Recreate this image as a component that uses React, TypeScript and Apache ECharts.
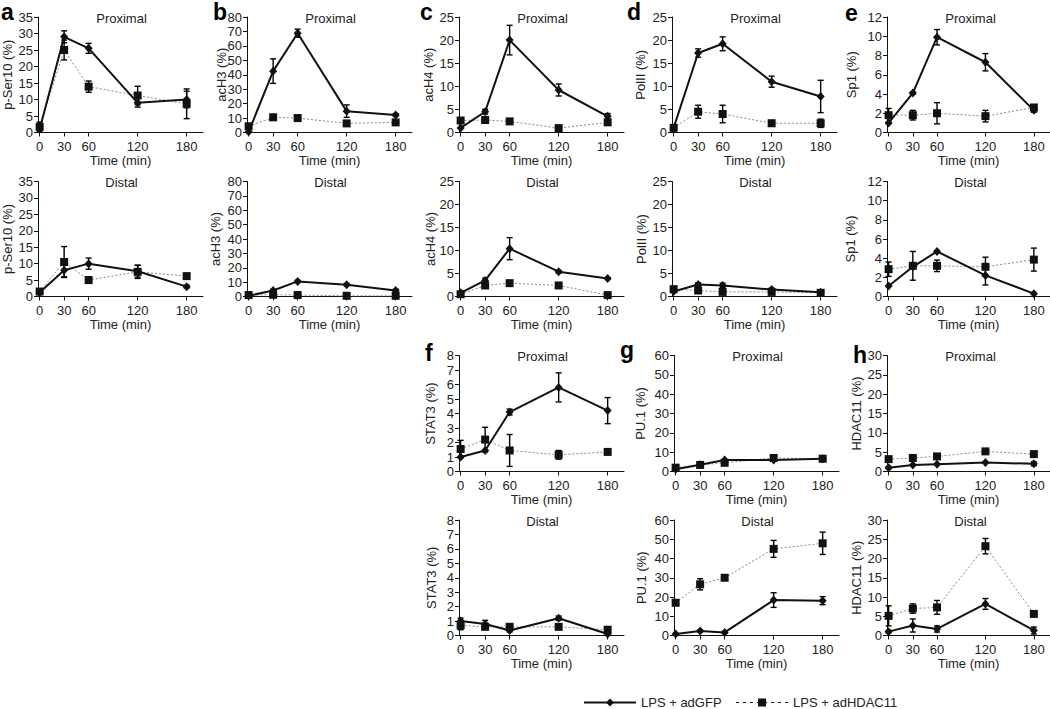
import React, { useEffect, useRef } from 'react';
import * as echarts from 'echarts';

const FONT = '"Liberation Sans", Arial, Helvetica, sans-serif';

const timePoints = [0, 30, 60, 120, 180];
const timeTicks = [0, 30, 60, 120, 180];
const GFP = 'LPS + adGFP';
const HDAC = 'LPS + adHDAC11';

// ---- a: p-Ser10 ----
const pSer10ProxGfp = [1, 29, 25.5, 9, 10];
const pSer10ProxGfpErr = [0, 1.8, 1.5, 1.3, 2.5];
const pSer10ProxHdac = [1.7, 25, 13.9, 11.2, 8.7];
const pSer10ProxHdacErr = [1.5, 3, 1.7, 2.8, 4.5];
const pSer10DistGfp = [1.2, 8, 10, 7.7, 3];
const pSer10DistGfpErr = [0, 2, 1.7, 1.8, 0.4];
const pSer10DistHdac = [1.5, 10.5, 5, 7.5, 6.2];
const pSer10DistHdacErr = [0.8, 4.7, 1, 2, 0.8];
// ---- b: acH3 ----
const acH3ProxGfp = [0.5, 42.5, 68.8, 14.8, 12.1];
const acH3ProxGfpErr = [0, 8.5, 2.8, 4.3, 1];
const acH3ProxHdac = [4.3, 10.5, 10, 6.3, 7];
const acH3ProxHdacErr = [1.2, 2, 2, 1, 0.8];
const acH3DistGfp = [0.5, 4.2, 10.5, 8.2, 4.2];
const acH3DistGfpErr = [0, 0.8, 0.8, 0.8, 0.8];
const acH3DistHdac = [1, 1.2, 1, 0.5, 0.5];
const acH3DistHdacErr = [0, 0, 0, 0, 0];
// ---- c: acH4 ----
const acH4ProxGfp = [1, 4.5, 20, 9.2, 3.5];
const acH4ProxGfpErr = [0, 0.5, 3.2, 1.3, 0.6];
const acH4ProxHdac = [2.6, 2.7, 2.4, 0.95, 2.2];
const acH4ProxHdacErr = [0.3, 0.3, 0.2, 0.2, 0.3];
const acH4DistGfp = [0.8, 3.5, 10.4, 5.4, 3.9];
const acH4DistGfpErr = [0, 0.5, 2.4, 0.3, 0.2];
const acH4DistHdac = [0.5, 2.4, 2.9, 2.4, 0.3];
const acH4DistHdacErr = [0, 0, 0, 0, 0];
// ---- d: PolII ----
const polIIProxGfp = [1, 17.2, 19.2, 11, 7.8];
const polIIProxGfpErr = [0, 0.9, 1.5, 1.2, 3.5];
const polIIProxHdac = [1, 4.5, 4, 2, 2];
const polIIProxHdacErr = [0.3, 1.4, 1.9, 0.6, 0.9];
const polIIDistGfp = [1.1, 2.6, 2.4, 1.5, 0.9];
const polIIDistGfpErr = [0.2, 0.4, 0.5, 0.3, 0.2];
const polIIDistHdac = [1.6, 1.3, 1.0, 1.0, 0.8];
const polIIDistHdacErr = [0.3, 0.2, 0.2, 0.2, 0.1];
// ---- e: Sp1 ----
const sp1ProxGfp = [1, 4.1, 9.9, 7.3, 2.3];
const sp1ProxGfpErr = [0, 0.1, 0.8, 0.9, 0.2];
const sp1ProxHdac = [1.8, 1.8, 2, 1.7, 2.6];
const sp1ProxHdacErr = [0.7, 0.5, 1.1, 0.6, 0.2];
const sp1DistGfp = [1.1, 3.1, 4.7, 2.2, 0.3];
const sp1DistGfpErr = [0, 0, 0.1, 1, 0];
const sp1DistHdac = [2.85, 3.2, 3.2, 3.1, 3.85];
const sp1DistHdacErr = [0.75, 1.5, 0.6, 1, 1.2];
// ---- f: STAT3 ----
const stat3ProxGfp = [1, 1.45, 4.1, 5.8, 4.2];
const stat3ProxGfpErr = [0, 0, 0.2, 1, 0.9];
const stat3ProxHdac = [1.55, 2.2, 1.45, 1.15, 1.35];
const stat3ProxHdacErr = [0.6, 0.85, 1.1, 0.3, 0.1];
const stat3DistGfp = [1, 0.8, 0.35, 1.2, 0.1];
const stat3DistGfpErr = [0.2, 0.25, 0.1, 0.15, 0];
const stat3DistHdac = [0.7, 0.6, 0.6, 0.6, 0.4];
const stat3DistHdacErr = [0.3, 0.1, 0.15, 0, 0.1];
// ---- g: PU.1 ----
const pu1ProxGfp = [1.2, 3.5, 6, 6, 6.6];
const pu1ProxGfpErr = [0, 0, 0, 0, 0];
const pu1ProxHdac = [2, 3.4, 4.5, 7, 6.6];
const pu1ProxHdacErr = [0.5, 0.5, 0.5, 0.8, 0.8];
const pu1DistGfp = [0.8, 2.3, 1.6, 18.4, 18.1];
const pu1DistGfpErr = [0, 0.5, 0.5, 3.8, 2.1];
const pu1DistHdac = [17, 26.6, 30, 45, 47.9];
const pu1DistHdacErr = [0.5, 2.9, 1.2, 4.4, 5.8];
// ---- h: HDAC11 ----
const hdac11ProxGfp = [1, 1.7, 1.9, 2.3, 2];
const hdac11ProxGfpErr = [0.3, 0, 0, 0, 0.5];
const hdac11ProxHdac = [3.2, 3.5, 3.9, 5.2, 4.5];
const hdac11ProxHdacErr = [0.6, 0.3, 0.4, 0.3, 0.5];
const hdac11DistGfp = [1, 2.6, 1.7, 8.2, 1.3];
const hdac11DistGfpErr = [0.3, 1.7, 0.8, 1.4, 0.9];
const hdac11DistHdac = [5.1, 7, 7.3, 23.2, 5.6];
const hdac11DistHdacErr = [2.6, 1.2, 1.8, 2, 0.6];

type PanelDef = {
  yName: string; region: string; max: number; interval: number;
  gfp: number[]; gfpErr: number[]; hd: number[]; hdErr: number[];
  col: number; row: number; gap: number;
};

const panels: PanelDef[] = [
  { yName: 'p-Ser10 (%)', region: 'Proximal', max: 35, interval: 5, gfp: pSer10ProxGfp, gfpErr: pSer10ProxGfpErr, hd: pSer10ProxHdac, hdErr: pSer10ProxHdacErr, col: 38, row: 0, gap: 24 },
  { yName: 'p-Ser10 (%)', region: 'Distal', max: 35, interval: 5, gfp: pSer10DistGfp, gfpErr: pSer10DistGfpErr, hd: pSer10DistHdac, hdErr: pSer10DistHdacErr, col: 38, row: 1, gap: 24 },
  { yName: 'acH3 (%)', region: 'Proximal', max: 80, interval: 10, gfp: acH3ProxGfp, gfpErr: acH3ProxGfpErr, hd: acH3ProxHdac, hdErr: acH3ProxHdacErr, col: 247, row: 0, gap: 19 },
  { yName: 'acH3 (%)', region: 'Distal', max: 80, interval: 10, gfp: acH3DistGfp, gfpErr: acH3DistGfpErr, hd: acH3DistHdac, hdErr: acH3DistHdacErr, col: 247, row: 1, gap: 25 },
  { yName: 'acH4 (%)', region: 'Proximal', max: 25, interval: 5, gfp: acH4ProxGfp, gfpErr: acH4ProxGfpErr, hd: acH4ProxHdac, hdErr: acH4ProxHdacErr, col: 459, row: 0, gap: 24 },
  { yName: 'acH4 (%)', region: 'Distal', max: 25, interval: 5, gfp: acH4DistGfp, gfpErr: acH4DistGfpErr, hd: acH4DistHdac, hdErr: acH4DistHdacErr, col: 459, row: 1, gap: 22 },
  { yName: 'PolII (%)', region: 'Proximal', max: 25, interval: 5, gfp: polIIProxGfp, gfpErr: polIIProxGfpErr, hd: polIIProxHdac, hdErr: polIIProxHdacErr, col: 672, row: 0, gap: 25 },
  { yName: 'PolII (%)', region: 'Distal', max: 25, interval: 5, gfp: polIIDistGfp, gfpErr: polIIDistGfpErr, hd: polIIDistHdac, hdErr: polIIDistHdacErr, col: 672, row: 1, gap: 24 },
  { yName: 'Sp1 (%)', region: 'Proximal', max: 12, interval: 2, gfp: sp1ProxGfp, gfpErr: sp1ProxGfpErr, hd: sp1ProxHdac, hdErr: sp1ProxHdacErr, col: 887, row: 0, gap: 29 },
  { yName: 'Sp1 (%)', region: 'Distal', max: 12, interval: 2, gfp: sp1DistGfp, gfpErr: sp1DistGfpErr, hd: sp1DistHdac, hdErr: sp1DistHdacErr, col: 887, row: 1, gap: 30 },
  { yName: 'STAT3 (%)', region: 'Proximal', max: 8, interval: 1, gfp: stat3ProxGfp, gfpErr: stat3ProxGfpErr, hd: stat3ProxHdac, hdErr: stat3ProxHdacErr, col: 459, row: 2, gap: 22 },
  { yName: 'STAT3 (%)', region: 'Distal', max: 8, interval: 1, gfp: stat3DistGfp, gfpErr: stat3DistGfpErr, hd: stat3DistHdac, hdErr: stat3DistHdacErr, col: 459, row: 3, gap: 21 },
  { yName: 'PU.1 (%)', region: 'Proximal', max: 60, interval: 10, gfp: pu1ProxGfp, gfpErr: pu1ProxGfpErr, hd: pu1ProxHdac, hdErr: pu1ProxHdacErr, col: 674, row: 2, gap: 27 },
  { yName: 'PU.1 (%)', region: 'Distal', max: 60, interval: 10, gfp: pu1DistGfp, gfpErr: pu1DistGfpErr, hd: pu1DistHdac, hdErr: pu1DistHdacErr, col: 674, row: 3, gap: 26 },
  { yName: 'HDAC11 (%)', region: 'Proximal', max: 30, interval: 5, gfp: hdac11ProxGfp, gfpErr: hdac11ProxGfpErr, hd: hdac11ProxHdac, hdErr: hdac11ProxHdacErr, col: 887, row: 2, gap: 24 },
  { yName: 'HDAC11 (%)', region: 'Distal', max: 30, interval: 5, gfp: hdac11DistGfp, gfpErr: hdac11DistGfpErr, hd: hdac11DistHdac, hdErr: hdac11DistHdacErr, col: 887, row: 3, gap: 24 },
];

const rowTops = [17, 181.5, 355.5, 520];
const rowHeights = [115.5, 115, 116, 115.5];
const GRID_W = 165;

const letters = [
  { t: 'a', x: 1, top: 0 },
  { t: 'b', x: 213, top: 0 },
  { t: 'c', x: 420, top: 0 },
  { t: 'd', x: 627, top: 0 },
  { t: 'e', x: 845, top: 1.5 },
  { t: 'f', x: 425, top: 341.5 },
  { t: 'g', x: 620, top: 338 },
  { t: 'h', x: 853, top: 343 },
];

function errRenderItem(params: any, api: any) {
  const x = api.value(0);
  const lo = api.value(1);
  const hi = api.value(2);
  const p1 = api.coord([x, lo]);
  const p2 = api.coord([x, hi]);
  const w = 3;
  const st = { stroke: '#000', lineWidth: 1.4 };
  return {
    type: 'group',
    children: [
      { type: 'line', shape: { x1: p1[0], y1: p1[1], x2: p2[0], y2: p2[1] }, style: st },
      { type: 'line', shape: { x1: p1[0] - w, y1: p1[1], x2: p1[0] + w, y2: p1[1] }, style: st },
      { type: 'line', shape: { x1: p2[0] - w, y1: p2[1], x2: p2[0] + w, y2: p2[1] }, style: st },
    ],
  };
}

function buildOption() {
  const grid: any[] = [];
  const xAxis: any[] = [];
  const yAxis: any[] = [];
  const series: any[] = [];
  const graphic: any[] = [];
  const txt = { color: '#222', fontFamily: FONT, fontSize: 13 };

  panels.forEach((p, i) => {
    const top = rowTops[p.row];
    const h = rowHeights[p.row];
    grid.push({ left: p.col, top, width: GRID_W, height: h, containLabel: false });
    xAxis.push({
      type: 'value', gridIndex: i, min: -2, max: 200,
      splitLine: { show: false },
      axisLine: { onZero: false, lineStyle: { color: '#111', width: 1 } },
      axisTick: { customValues: timeTicks, length: 4, lineStyle: { color: '#111' } },
      axisLabel: { customValues: timeTicks, margin: 7, ...txt },
      name: 'Time (min)', nameLocation: 'middle', nameGap: 21, nameMoveOverlap: false,
      nameTextStyle: { ...txt },
    });
    yAxis.push({
      type: 'value', gridIndex: i, min: 0, max: p.max, interval: p.interval,
      splitLine: { show: false },
      axisLine: { show: true, onZero: false, lineStyle: { color: '#111', width: 1 } },
      axisTick: { show: true, length: 4, lineStyle: { color: '#111' } },
      axisLabel: { margin: 5, ...txt },
      name: p.yName, nameLocation: 'middle', nameGap: p.gap, nameRotate: 90, nameMoveOverlap: false,
      nameTextStyle: { ...txt },
    });
    const errData = (m: number[], e: number[]) =>
      timePoints
        .map((t, j) => [t, Math.max(0, m[j] - e[j]), m[j] + e[j], e[j]])
        .filter((d) => d[3] > 0)
        .map((d) => [d[0], d[1], d[2]]);
    series.push({
      type: 'custom', xAxisIndex: i, yAxisIndex: i, silent: true, z: 1,
      renderItem: errRenderItem, encode: { x: 0, y: [1, 2] },
      data: errData(p.hd, p.hdErr),
    });
    series.push({
      type: 'custom', xAxisIndex: i, yAxisIndex: i, silent: true, z: 1,
      renderItem: errRenderItem, encode: { x: 0, y: [1, 2] },
      data: errData(p.gfp, p.gfpErr),
    });
    series.push({
      name: HDAC, type: 'line', xAxisIndex: i, yAxisIndex: i, z: 2,
      symbol: 'rect', symbolSize: 8, showSymbol: true,
      lineStyle: { color: '#8a8a8a', width: 1, type: [2, 2] },
      itemStyle: { color: '#111' },
      data: timePoints.map((t, j) => [t, p.hd[j]]),
    });
    series.push({
      name: GFP, type: 'line', xAxisIndex: i, yAxisIndex: i, z: 3,
      symbol: 'diamond', symbolSize: [8, 9], showSymbol: true,
      lineStyle: { color: '#111', width: 2 },
      itemStyle: { color: '#111' },
      data: timePoints.map((t, j) => [t, p.gfp[j]]),
    });
    graphic.push({
      type: 'text', x: p.col + GRID_W / 2 + 1, y: top + 1,
      style: { text: p.region, fill: '#222', font: `13px ${FONT}`, align: 'center', verticalAlign: 'middle', textAlign: 'center', textVerticalAlign: 'middle' },
    });
  });

  letters.forEach((l) => {
    graphic.push({
      type: 'text', x: l.x, y: l.top,
      style: { text: l.t, fill: '#000', font: `bold 23px ${FONT}`, align: 'left', verticalAlign: 'top', textAlign: 'left', textVerticalAlign: 'top' },
    });
  });

  return {
    animation: false,
    backgroundColor: '#fff',
    grid, xAxis, yAxis, series, graphic,
    legend: {
      left: 578, top: 691,
      itemWidth: 52, itemHeight: 10, itemGap: 14,
      selectedMode: false,
      textStyle: { ...txt },
      data: [
        { name: GFP },
        { name: HDAC, lineStyle: { color: '#111', type: [3, 4], width: 1 } },
      ],
    },
  };
}

export default function App() {
  const ref = useRef<HTMLDivElement>(null);
  useEffect(() => {
    if (!ref.current) return;
    const chart = echarts.init(ref.current, undefined, { renderer: 'svg' });
    chart.setOption(buildOption() as any);
    return () => chart.dispose();
  }, []);
  return <div ref={ref} style={{ position: 'fixed', left: 0, top: 0, width: 1050, height: 709, background: '#fff' }} />;
}
